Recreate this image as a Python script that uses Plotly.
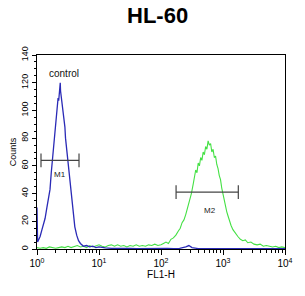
import math
import plotly.graph_objects as go

# ---- data (x as log10 of FL1-H channel, y as counts) ----
control_log = [0.00, 0.005, 0.01, 0.03, 0.05, 0.08, 0.11, 0.13, 0.16, 0.19, 0.21, 0.23, 0.25, 0.26,
               0.28, 0.29, 0.31, 0.32, 0.33, 0.34, 0.35, 0.36, 0.365, 0.37, 0.375, 0.38, 0.39,
               0.40, 0.42, 0.43, 0.45, 0.46, 0.48, 0.50, 0.52, 0.54, 0.56, 0.58, 0.61, 0.64,
               0.67, 0.70, 0.75, 0.80, 0.85, 0.90, 0.95, 1.00, 1.05, 1.10, 1.20, 1.30, 1.40,
               1.50, 1.60, 1.70, 1.80, 1.90, 2.00, 2.10, 2.20, 2.30, 2.40, 2.45, 2.50, 2.55,
               2.60, 2.80, 3.00, 3.20, 3.40, 3.60, 3.80, 4.00]
control_counts = [30, 12, 5, 7, 9, 14, 19, 22, 30, 37, 43, 55, 65, 71,
                  78, 84, 93, 100, 104, 109, 107, 115, 119, 116, 120, 114, 110,
                  106, 101, 95, 88, 80, 71, 62, 52, 43, 35, 26, 16, 10,
                  6, 4, 2, 2.5, 1.5, 2, 1, 1.5, 1, 0.8, 0.5, 0.6, 0.4,
                  0.5, 0.3, 0.4, 0.3, 0.4, 0.3, 0.4, 0.3, 0.5, 1.5, 2.5, 1, 0.4,
                  0.3, 0.3, 0.2, 0.3, 0.2, 0.3, 0.2, 0.2]

sample_log = [0.00, 0.05, 0.10, 0.15, 0.20, 0.25, 0.30, 0.35, 0.40, 0.45, 0.50, 0.55, 0.60, 0.65,
              0.70, 0.75, 0.80, 0.85, 0.90, 0.95, 1.00, 1.05, 1.10, 1.15, 1.20, 1.25, 1.30,
              1.35, 1.40, 1.45, 1.50, 1.55, 1.60, 1.65, 1.70, 1.75, 1.80, 1.85, 1.90, 1.95,
              2.00, 2.04, 2.08, 2.12, 2.16, 2.20, 2.24, 2.28, 2.31, 2.34, 2.37, 2.40, 2.43,
              2.46, 2.49, 2.52, 2.54, 2.56, 2.58, 2.60, 2.62, 2.64, 2.66, 2.68, 2.70, 2.72,
              2.74, 2.76, 2.78, 2.80, 2.82, 2.84, 2.86, 2.88, 2.90, 2.92, 2.94, 2.96, 2.98,
              3.00, 3.02, 3.04, 3.06, 3.08, 3.10, 3.13, 3.16, 3.20, 3.24, 3.28, 3.32, 3.36,
              3.40, 3.45, 3.50, 3.55, 3.60, 3.65, 3.70, 3.75, 3.80, 3.85, 3.90, 3.95, 4.00]
sample_counts = [1, 0.5, 1, 0.5, 1.5, 1, 0.5, 1, 1.5, 1, 2, 1, 1.5, 2.5,
                 1.5, 2, 1, 2.5, 1.5, 2, 3, 2, 1.5, 2.5, 3, 2, 3,
                 2, 2.5, 1.5, 2.5, 2, 3, 2, 2.5, 2, 3, 2.5, 3.5, 2.5,
                 3, 4, 5, 4, 7, 8, 10, 13, 15, 19, 21, 25, 30,
                 34, 40, 47, 52, 57, 55, 62, 60, 66, 64, 70, 68, 74,
                 72, 78, 75, 76, 70, 72, 66, 67, 61, 58, 53, 50, 44,
                 39, 35, 31, 27, 24, 21, 17, 14, 11, 9, 7, 6, 6.5,
                 4.5, 5, 3.5, 3, 3.5, 2, 2.5, 2, 1.5, 2, 1, 1.5, 1]

gate_names = ["M1", "M2"]
gate_low = [1.16, 175]
gate_high = [4.76, 1766]
gate_level = [64, 41]
gate_label_x = [2.35, 617]
gate_label_y = [54, 28]

control_label_x = 2.75
control_label_y = 127

x_tick_vals = [1, 10, 100, 1000, 10000]
x_tick_text = ["10<sup>0</sup>", "10<sup>1</sup>", "10<sup>2</sup>", "10<sup>3</sup>", "10<sup>4</sup>"]
y_tick_vals = [0, 20, 40, 60, 80, 100, 120, 140]

FONT = "Arial, Liberation Sans, sans-serif"
BLUE = "#2a2ab6"
GREEN = "#44e044"

fig = go.Figure()
fig.add_trace(go.Scatter(x=[10 ** v for v in sample_log], y=sample_counts, mode="lines",
                         line=dict(color=GREEN, width=1.1), showlegend=False))
fig.add_trace(go.Scatter(x=[10 ** v for v in control_log], y=control_counts, mode="lines",
                         line=dict(color=BLUE, width=1.3), showlegend=False))

for name, lo, hi, lv, lx, ly in zip(gate_names, gate_low, gate_high, gate_level, gate_label_x, gate_label_y):
    fig.add_trace(go.Scatter(x=[lo, lo, None, lo, hi, None, hi, hi],
                             y=[lv - 5, lv + 5, None, lv, lv, None, lv - 5, lv + 5],
                             mode="lines", line=dict(color="#444444", width=1.2),
                             showlegend=False))
    # annotations on a log axis use log10 coordinates
    fig.add_annotation(x=math.log10(lx), y=ly, xref="x", yref="y", text=name, showarrow=False,
                       font=dict(family=FONT, size=8, color="#222222"))

fig.add_annotation(x=math.log10(control_label_x), y=control_label_y, xref="x", yref="y",
                   text="control", showarrow=False,
                   font=dict(family=FONT, size=10, color="#111111"))

fig.add_annotation(x=0.485, y=1 + (55 - 15) / (296 - 55 - 47), xref="paper", yref="paper",
                   text="<b>HL-60</b>", showarrow=False, yanchor="middle",
                   font=dict(family=FONT, size=22, color="black"))

minor_x = [k * 10 ** d for d in range(4) for k in range(2, 10)]

fig.update_layout(
    width=305, height=296,
    margin=dict(l=37, r=20, t=55, b=47),
    paper_bgcolor="white", plot_bgcolor="white",
    font=dict(family=FONT, size=9, color="black"),
    xaxis=dict(type="log", range=[0, 4], tickvals=x_tick_vals, ticktext=x_tick_text,
               ticks="outside", ticklen=5, tickcolor="black", showgrid=False, zeroline=False,
               showline=True, linecolor="black", linewidth=1, mirror=True,
               tickfont=dict(size=10),
               minor=dict(tickvals=minor_x, ticks="outside", ticklen=3, tickcolor="black", showgrid=False),
               title=dict(text="FL1-H", font=dict(size=10), standoff=0)),
    yaxis=dict(range=[0, 140], tickvals=y_tick_vals, tickangle=-90,
               ticks="outside", ticklen=4, tickcolor="black", showgrid=False, zeroline=False,
               showline=True, linecolor="black", linewidth=1, mirror=True,
               tickfont=dict(size=9),
               minor=dict(dtick=5, ticks="outside", ticklen=2, tickcolor="black", showgrid=False),
               title=dict(text="Counts", font=dict(size=9), standoff=2)),
)

fig.write_html("out.html")
